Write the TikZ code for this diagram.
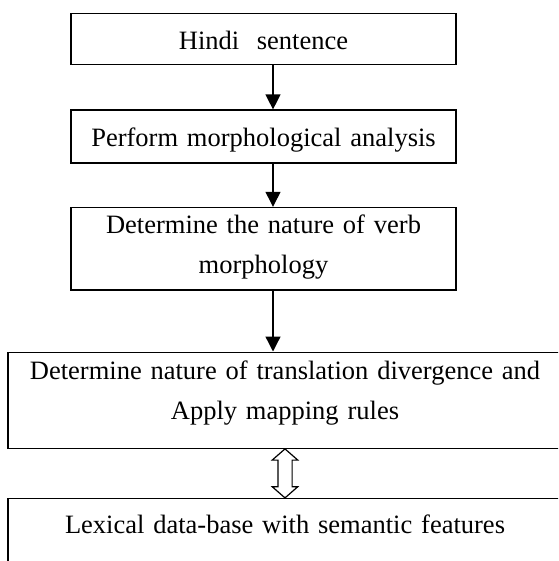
\documentclass[tikz,border=0pt]{standalone}
\usepackage{fontspec}
\setmainfont{Liberation Serif}
\usetikzlibrary{positioning,arrows.meta}

\tikzstyle{flow_box} = [rectangle, draw=black, line width=1.4pt, inner xsep=7.5pt, inner ysep=0pt, minimum width=385pt, text width=370pt, text centered, font=\fontsize{26.5pt}{40pt}\selectfont]
\tikzstyle{wide_box} = [flow_box, minimum width=554pt, text width=539pt]
\tikzstyle{arrow} = [line width=1.3pt, -{Triangle[length=15pt,width=15pt]}]
\tikzstyle{link_arrow} = [line width=1.2pt, draw=black, fill=white]

\begin{document}
\begin{tikzpicture}
        \useasboundingbox (0pt,0pt) rectangle (558pt,-561pt);
        \clip (0pt,0pt) rectangle (558pt,-561pt);

        \node (hindi) [flow_box, anchor=north, text height=36.3pt, text depth=15pt] at (263.5pt,-12.7pt) {Hindi\ \ sentence};
        \node (morph) [flow_box, below=44pt of hindi, text height=36pt, text depth=17pt] {Perform morphological analysis};
        \node (verb) [flow_box, below=43pt of morph, text height=26pt, text depth=56.3pt] {Determine the nature of verb\\ morphology};
        \node (diverge) [wide_box, below=61pt of verb, xshift=21.5pt, text height=27pt, text depth=69pt] {Determine nature of translation divergence and\\ Apply mapping rules};
        \node (lexicon) [wide_box, below=49pt of diverge, text height=35.3pt, text depth=70pt] {Lexical data-base with semantic features};

        \draw [arrow] ([xshift=9.5pt]hindi.south) -- ([xshift=9.5pt]morph.north);
        \draw [arrow] ([xshift=9.5pt]morph.south) -- ([xshift=9.5pt]verb.north);
        \draw [arrow] ([xshift=9.5pt]verb.south) -- ([xshift=9.5pt]verb.south |- diverge.north);
        % two-way link to the lexicon
        \draw [link_arrow] (diverge.south) -- ++(12.8pt,-11.2pt) -- ++(-5.7pt,0pt) -- ++(0pt,-26.6pt) -- ++(5.7pt,0pt) -- (lexicon.north)
                -- ++(-12.8pt,11.2pt) -- ++(5.7pt,0pt) -- ++(0pt,26.6pt) -- ++(-5.7pt,0pt) -- cycle;
    \end{tikzpicture}
\end{document}
